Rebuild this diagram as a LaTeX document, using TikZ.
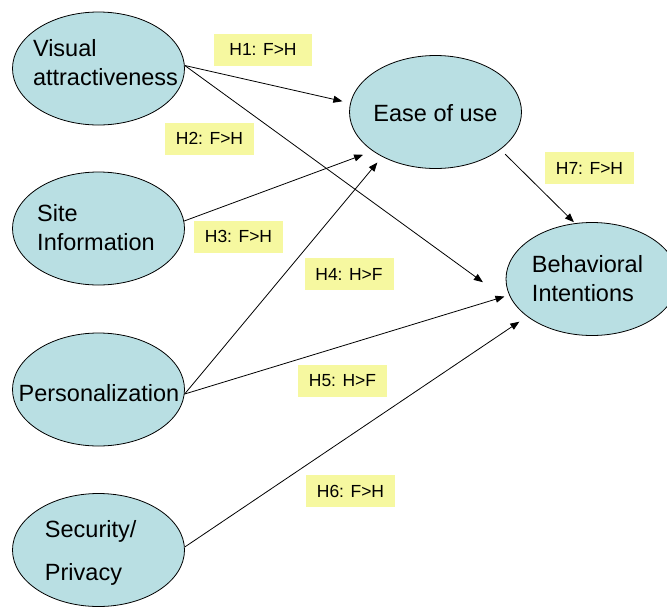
\documentclass[tikz,border=0pt]{standalone}
\usepackage{fontspec}
\setmainfont{Liberation Sans}
\usepackage{tikz}
\usetikzlibrary{shapes.geometric,arrows.meta}
\definecolor{varblue}{RGB}{185,223,227}
\definecolor{hypyellow}{RGB}{246,248,160}
\tikzset{
  var/.style={ellipse, draw, fill=varblue, line width=0.8pt, inner sep=0pt,
              minimum width=172pt, minimum height=113pt},
  vtxt/.style={align=left, inner sep=0pt, font=\fontsize{23.5}{29}\selectfont},
  hyp/.style={rectangle, fill=hypyellow, inner sep=0pt, minimum width=89pt,
              minimum height=32pt, font=\fontsize{17.5}{21}\selectfont},
  arr/.style={-{Triangle[length=9pt,width=7pt]}, line width=0.8pt}
}
\begin{document}
\begin{tikzpicture}[x=1pt, y=-1pt]
  \useasboundingbox (0,0) rectangle (667,606);
  % constructs
  \node[var] (vis) at (98.5,68.5) {};
  \node[var] (site) at (98.5,228.5) {};
  \node[var] (pers) at (98.5,389.5) {};
  \node[var] (sec) at (98.5,550) {};
  \node[var] (ease) at (435.5,112) {};
  \node[var] (beh) at (592,279) {};
  \node[vtxt] (visT) at (105.5,62.5) {Visual\\attractiveness};
  \node[vtxt] (siteT) at (96,227.5) {Site\\Information};
  \node[vtxt] (persT) at (99,393) {Personalization};
  \node[vtxt, font=\fontsize{23.5}{43}\selectfont] (secT) at (90.7,553) {Security/\\Privacy};
  \node[vtxt] (easeT) at (435.5,113) {Ease of use};
  \node[vtxt] (behT) at (587.5,279) {Behavioral\\Intentions};
  % hypotheses
  \node[hyp, minimum width=98pt] (h1) at (263,49.5) {H1: F>H};
  \node[hyp] (h2) at (209.5,138.5) {H2: F>H};
  \node[hyp] (h3) at (238.5,236.5) {H3: F>H};
  \node[hyp] (h4) at (349,274) {H4: H>F};
  \node[hyp] (h5) at (342.5,381) {H5: H>F};
  \node[hyp] (h6) at (350.5,491) {H6: F>H};
  \node[hyp] (h7) at (589.5,168) {H7: F>H};
  % paths
  \draw[arr, shorten >=8pt] (vis.2)--(ease.174.6);
  \draw[arr, shorten >=41.4pt] (vis.2)--(beh.200);
  \draw[arr, shorten >=10.4pt] (site.5)--(ease.212);
  \draw[arr, shorten >=7.5pt] (pers.-3)--(ease.220.6);
  \draw[arr, shorten >=4.9pt] (pers.-3)--(beh.191.4);
  \draw[arr, shorten >=9.3pt] (sec.2)--(beh.210.5);
  \draw[arr, shorten <=6.7pt, shorten >=1.5pt] (ease.330.6)--(beh.107.7);
\end{tikzpicture}
\end{document}
